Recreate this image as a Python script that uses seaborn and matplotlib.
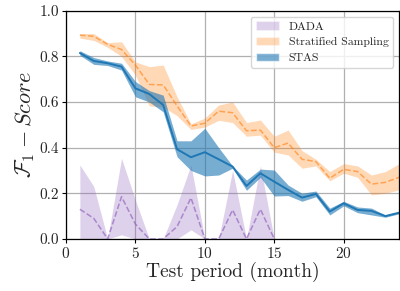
import numpy as np
import pandas as pd
import matplotlib
matplotlib.use("Agg")
import matplotlib.pyplot as plt
import seaborn as sns
from matplotlib.patches import Patch

# Test periods (months)
months = list(range(1, 25))

# STAS: mean with lower/upper band
stas_mean = [0.815, 0.78, 0.77, 0.755, 0.66, 0.635, 0.587, 0.393, 0.358, 0.38, 0.349, 0.317,
             0.232, 0.288, 0.251, 0.215, 0.181, 0.197, 0.12, 0.156, 0.127, 0.123, 0.10, 0.115]
stas_low = [0.805, 0.765, 0.76, 0.74, 0.623, 0.60, 0.557, 0.36, 0.30, 0.276, 0.28, 0.31,
            0.213, 0.27, 0.188, 0.19, 0.165, 0.185, 0.105, 0.145, 0.115, 0.105, 0.095, 0.11]
stas_high = [0.825, 0.795, 0.78, 0.77, 0.69, 0.65, 0.63, 0.43, 0.43, 0.485, 0.40, 0.32,
             0.258, 0.306, 0.302, 0.236, 0.20, 0.21, 0.135, 0.165, 0.14, 0.135, 0.105, 0.12]

# Stratified Sampling
strat_mean = [0.893, 0.888, 0.853, 0.83, 0.762, 0.677, 0.675, 0.583, 0.495, 0.507, 0.56, 0.553,
              0.474, 0.477, 0.40, 0.42, 0.349, 0.339, 0.266, 0.305, 0.295, 0.24, 0.248, 0.27]
strat_low = [0.88, 0.87, 0.84, 0.80, 0.718, 0.583, 0.578, 0.54, 0.48, 0.49, 0.52, 0.51,
             0.45, 0.455, 0.38, 0.368, 0.31, 0.32, 0.255, 0.288, 0.27, 0.193, 0.20, 0.215]
strat_high = [0.90, 0.90, 0.86, 0.864, 0.776, 0.755, 0.762, 0.623, 0.504, 0.53, 0.587, 0.60,
              0.51, 0.521, 0.45, 0.477, 0.387, 0.349, 0.295, 0.33, 0.32, 0.28, 0.295, 0.33]

# DADA (only up to month 15)
dada_months = list(range(1, 16))
dada_mean = [0.13, 0.09, 0.0, 0.185, 0.065, 0.0, 0.0, 0.054, 0.18, 0.0, 0.0, 0.127, 0.0, 0.13, 0.0]
dada_low = [0.0, 0.0, 0.0, 0.018, 0.0, 0.0, 0.0, 0.0, 0.04, 0.0, 0.0, 0.0, 0.0, 0.0, 0.0]
dada_high = [0.324, 0.23, 0.0, 0.353, 0.17, 0.0, 0.0, 0.15, 0.324, 0.0, 0.0, 0.30, 0.0, 0.32, 0.0]


def long_form(x, low, mid, high):
    # three values per month so median = mean line, min/max = band
    rows = []
    for xi, a, b, c in zip(x, low, mid, high):
        rows += [(xi, a), (xi, b), (xi, c)]
    return pd.DataFrame(rows, columns=["month", "score"])


sns.set_theme(style="whitegrid")
plt.rcParams["font.family"] = ["cmr10", "DejaVu Serif"]
plt.rcParams["mathtext.fontset"] = "cm"
plt.rcParams["axes.formatter.use_mathtext"] = True

fig = plt.figure(figsize=(4.0, 2.91), dpi=100)
ax = fig.add_axes([0.165, 0.179, 0.833, 0.784])

purple = "#9467bd"
orange = "#ff7f0e"
blue = "#1f77b4"

sns.lineplot(data=long_form(dada_months, dada_low, dada_mean, dada_high), x="month", y="score",
             estimator="median", errorbar=("pi", 100), color=purple, ax=ax,
             linestyle="--", linewidth=1.1, alpha=0.7, err_kws={"alpha": 0.3, "linewidth": 0})
sns.lineplot(data=long_form(months, strat_low, strat_mean, strat_high), x="month", y="score",
             estimator="median", errorbar=("pi", 100), color=orange, ax=ax,
             linestyle="--", linewidth=1.1, alpha=0.6, err_kws={"alpha": 0.3, "linewidth": 0})
sns.lineplot(data=long_form(months, stas_low, stas_mean, stas_high), x="month", y="score",
             estimator="median", errorbar=("pi", 100), color=blue, ax=ax,
             linewidth=1.4, err_kws={"alpha": 0.6, "linewidth": 0})

ax.set_xlim(0, 24)
ax.set_ylim(0, 1)
ax.set_xticks([0, 5, 10, 15, 20])
ax.set_yticks([0.0, 0.2, 0.4, 0.6, 0.8, 1.0])
ax.set_yticklabels(["0.0", "0.2", "0.4", "0.6", "0.8", "1.0"])
ax.tick_params(axis="both", labelsize=11, length=3, width=0.8, color="black", left=True, bottom=True, pad=2)
ax.set_xlabel("Test period (month)", fontsize=14, labelpad=1)
ax.set_ylabel(r"$\mathcal{F}_1 - Score$", fontsize=16, labelpad=2)
ax.grid(True, color="#b0b0b0", linewidth=0.9)
ax.set_facecolor("white")
for s in ax.spines.values():
    s.set_color("black")
    s.set_linewidth(0.9)

handles = [Patch(facecolor=purple, alpha=0.3, label="DADA"),
           Patch(facecolor=orange, alpha=0.3, label="Stratified Sampling"),
           Patch(facecolor=blue, alpha=0.6, label="STAS")]
ax.legend(handles=handles, loc="upper right", fontsize=8.5, frameon=True, framealpha=0.8,
          edgecolor="#cccccc", borderpad=0.4, labelspacing=0.45, handlelength=2.0)

fig.savefig("out.png", dpi=100)
